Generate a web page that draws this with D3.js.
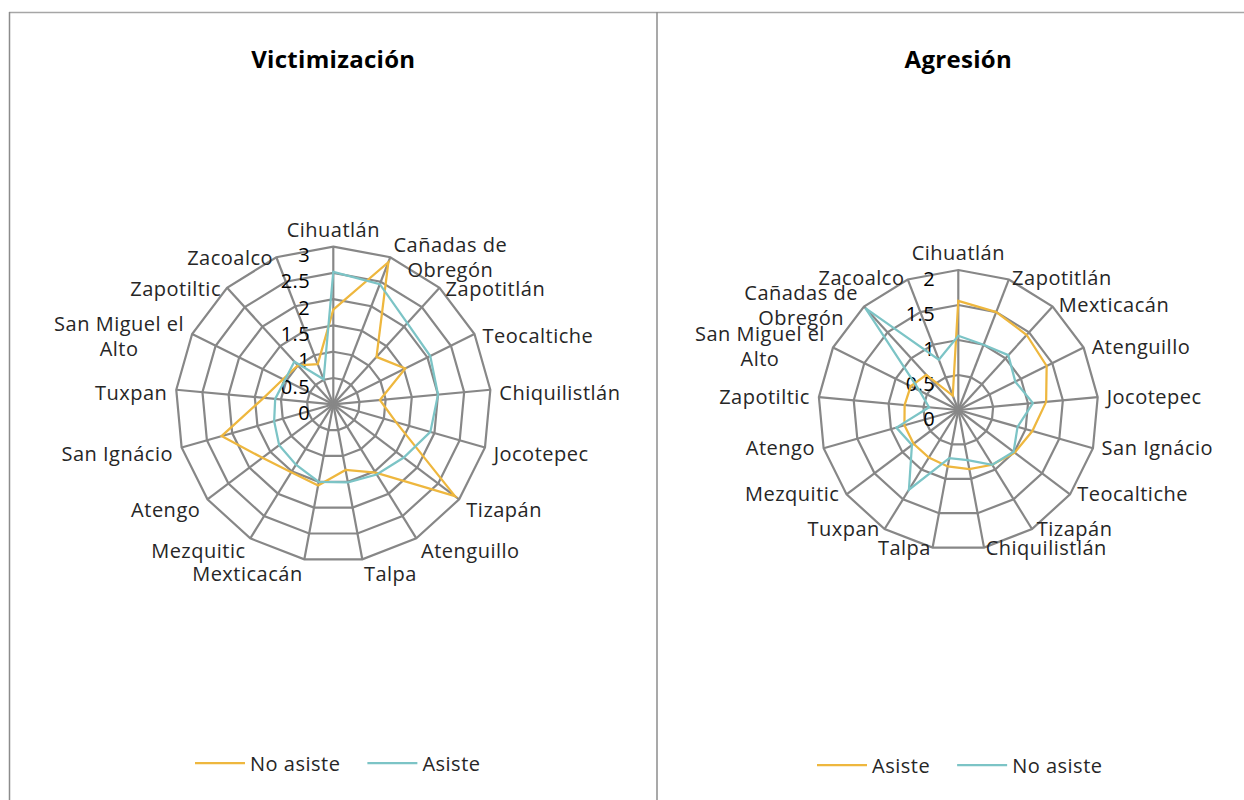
<!DOCTYPE html>
<html>
<head>
<meta charset="utf-8">
<script src="https://cdn.jsdelivr.net/npm/d3@7"></script>
<style>
  body { margin: 0; background: #ffffff; }
  svg { display: block; }
  text { font-family: 'Open Sans', sans-serif; fill: #262626; letter-spacing: 0.5px; }
</style>
</head>
<body>
<svg id="chart" width="1244" height="800"></svg>
<script>
'use strict';

// Victimización (left chart)
var victimCategories = ['Cihuatlán', 'Cañadas de Obregón', 'Zapotitlán', 'Teocaltiche', 'Chiquilistlán',
    'Jocotepec', 'Tizapán', 'Atenguillo', 'Talpa', 'Mexticacán', 'Mezquitic', 'Atengo',
    'San Ignácio', 'Tuxpan', 'San Miguel el Alto', 'Zapotiltic', 'Zacoalco'];
var victimNoAsiste = [1.8, 2.9, 1.22, 1.53, 0.89, 1.24, 2.9, 1.53, 1.27, 1.57, 1.52, 1.69, 2.21, 1.33, 1.07, 1.0, 0.82];
var victimAsiste   = [2.52, 2.45, 2.09, 2.06, 2.0, 1.92, 1.68, 1.57, 1.51, 1.5, 1.35, 1.29, 1.17, 1.11, 1.03, 1.1, 0.51];
var victimTicks = [0, 0.5, 1, 1.5, 2, 2.5, 3];

// Agresión (right chart)
var agresCategories = ['Cihuatlán', 'Zapotitlán', 'Mexticacán', 'Atenguillo', 'Jocotepec', 'San Ignácio',
    'Teocaltiche', 'Tizapán', 'Chiquilistlán', 'Talpa', 'Tuxpan', 'Mezquitic', 'Atengo',
    'Zapotiltic', 'San Miguel el Alto', 'Cañadas de Obregón', 'Zacoalco'];
var agresAsiste   = [1.56, 1.5, 1.45, 1.41, 1.26, 1.1, 1.01, 0.92, 0.86, 0.82, 0.8, 0.8, 0.8, 0.77, 0.76, 0.68, 0.22];
var agresNoAsiste = [1.06, 1.0, 1.06, 0.91, 1.07, 0.88, 0.99, 0.92, 0.73, 0.70, 1.34, 0.83, 0.92, 0.42, 0.62, 1.97, 0.77];
var agresTicks = [0, 0.5, 1, 1.5, 2];

var ORANGE = '#EEB73E',
    TEAL = '#7CC4C6',
    GRID = '#878787';

var svg = d3.select('#chart');

// page frame
svg.append('line')
    .attr('x1', 9).attr('y1', 12.5).attr('x2', 1244).attr('y2', 12.5)
    .attr('stroke', '#a6a6a6').attr('stroke-width', 1.5);
[9.5, 657].forEach(function(x) {
    svg.append('line')
        .attr('x1', x).attr('y1', 12).attr('x2', x).attr('y2', 800)
        .attr('stroke', '#8c8c8c').attr('stroke-width', 1.5);
});

function wrapLines(textSel, label, maxWidth) {
    var words = label.split(' '),
        lines = [],
        current = '';
    words.forEach(function(w) {
        var trial = current ? current + ' ' + w : w;
        textSel.text(trial);
        if (current && textSel.node().getComputedTextLength() > maxWidth) {
            lines.push(current);
            current = w;
        } else {
            current = trial;
        }
    });
    lines.push(current);
    textSel.text(null);
    return lines;
}

function drawRadar(cfg) {
    var n = cfg.categories.length,
        maxV = cfg.ticks[cfg.ticks.length - 1],
        r = d3.scaleLinear().domain([0, maxV]).range([0, cfg.radius]),
        angle = function(i) { return i * 2 * Math.PI / n; };

    svg.append('text')
        .attr('x', cfg.cx).attr('y', 58)
        .attr('text-anchor', 'middle')
        .attr('dominant-baseline', 'central')
        .attr('font-size', '24px')
        .attr('font-weight', 'bold')
        .style('letter-spacing', '0.3px')
        .style('fill', '#000')
        .text(cfg.title);

    var root = svg.append('g')
        .attr('transform', 'translate(' + cfg.cx + ',' + cfg.cy + ')');

    var ring = d3.lineRadial()
        .angle(function(d, i) { return angle(i); })
        .radius(function(d) { return r(d); })
        .curve(d3.curveLinearClosed);

    root.selectAll('path.ring')
        .data(cfg.ticks.filter(function(t) { return t > 0; }))
        .join('path')
            .attr('class', 'ring')
            .attr('d', function(t) { return ring(cfg.categories.map(function() { return t; })); })
            .attr('fill', 'none')
            .attr('stroke', GRID)
            .attr('stroke-width', 2.2);

    root.selectAll('line.spoke')
        .data(d3.range(n))
        .join('line')
            .attr('class', 'spoke')
            .attr('x1', 0).attr('y1', 0)
            .attr('x2', function(i) { return r(maxV) * Math.sin(angle(i)); })
            .attr('y2', function(i) { return -r(maxV) * Math.cos(angle(i)); })
            .attr('stroke', GRID)
            .attr('stroke-width', 2.2);

    // value axis labels
    root.selectAll('text.tick')
        .data(cfg.ticks)
        .join('text')
            .attr('class', 'tick')
            .attr('x', -23)
            .attr('y', function(t) { return -r(t) + 8; })
            .attr('text-anchor', 'end')
            .attr('dominant-baseline', 'central')
            .attr('font-size', '20px')
            .style('fill', '#000')
            .text(function(t) { return t; });

    // series
    cfg.series.forEach(function(s) {
        root.append('path')
            .attr('d', ring(s.values))
            .attr('fill', 'none')
            .attr('stroke', s.color)
            .attr('stroke-width', 2.25)
            .attr('stroke-linejoin', 'miter');
    });

    // category labels
    cfg.categories.forEach(function(label, i) {
        var a = angle(i),
            sn = Math.sin(a),
            cs = Math.cos(a),
            tipX = r(maxV) * sn,
            tipY = -r(maxV) * cs,
            top = Math.abs(sn) < 0.1 && cs > 0,
            x = tipX + 9 * sn,
            yc;

        if (top) {
            yc = tipY - cfg.kTop;
        } else if (cs > 0) {
            yc = tipY + cfg.dy - cs * cfg.kUp;
        } else {
            yc = tipY + cfg.dy - cs * cfg.kDown;
        }

        var t = root.append('text')
            .attr('font-size', '20px')
            .attr('text-anchor', 'middle')
            .attr('dominant-baseline', 'central');
        var lines = wrapLines(t, label, 150);
        var widths = lines.map(function(l) {
            t.text(l);
            return t.node().getComputedTextLength();
        });
        t.text(null);
        var w = d3.max(widths),
            bx = Math.abs(sn) < 0.1 ? x : (sn > 0 ? x + w / 2 : x - w / 2);
        lines.forEach(function(l, j) {
            t.append('tspan')
                .attr('x', bx)
                .attr('y', yc + (j - (lines.length - 1) / 2) * 25)
                .text(l);
        });
    });

    // legend
    var lx = cfg.legendX,
        ly = cfg.legendY;
    cfg.series.forEach(function(s) {
        svg.append('line')
            .attr('x1', lx).attr('x2', lx + 50)
            .attr('y1', ly).attr('y2', ly)
            .attr('stroke', s.color)
            .attr('stroke-width', 2.25);
        var lt = svg.append('text')
            .attr('x', lx + 55).attr('y', ly)
            .attr('dominant-baseline', 'central')
            .attr('font-size', '20px')
            .text(s.name);
        lx += 55 + lt.node().getComputedTextLength() + 27;
    });
}

drawRadar({
    title: 'Victimización',
    cx: 333.3, cy: 404.3, radius: 157.7,
    ticks: victimTicks,
    categories: victimCategories,
    series: [
        { name: 'No asiste', values: victimNoAsiste, color: ORANGE },
        { name: 'Asiste', values: victimAsiste, color: TEAL }
    ],
    kTop: 17.5, kUp: 4, kDown: 10.5, dy: 3,
    legendX: 195, legendY: 763
});

drawRadar({
    title: 'Agresión',
    cx: 958.3, cy: 410, radius: 140,
    ticks: agresTicks,
    categories: agresCategories,
    series: [
        { name: 'Asiste', values: agresAsiste, color: ORANGE },
        { name: 'No asiste', values: agresNoAsiste, color: TEAL }
    ],
    kTop: 18, kUp: 2, kDown: 0, dy: -1,
    legendX: 817, legendY: 765
});
</script>
</body>
</html>
